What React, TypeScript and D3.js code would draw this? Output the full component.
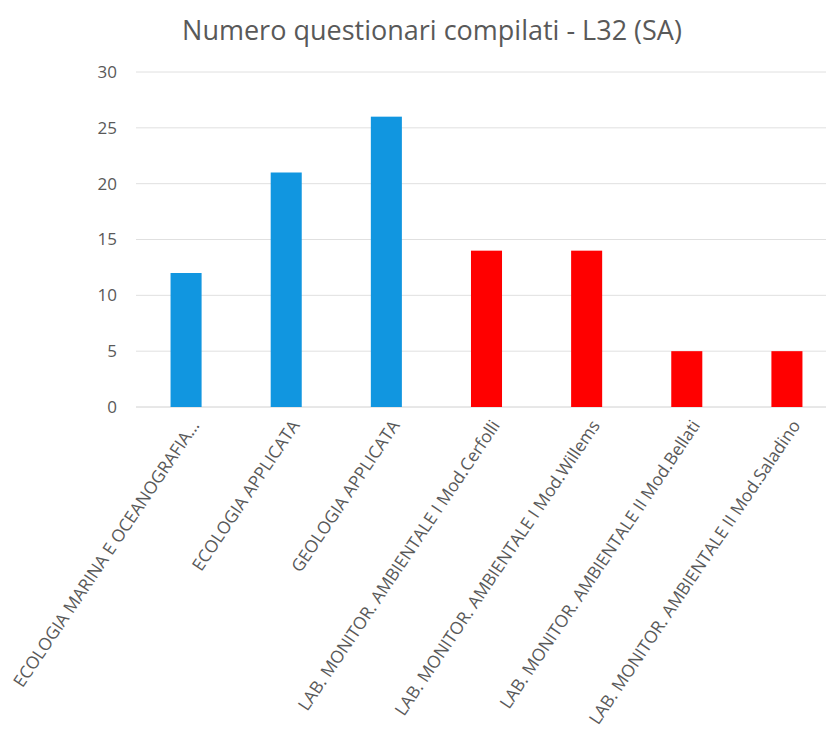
import React from "react";
import * as d3 from "d3";

const categories = [
  "ECOLOGIA MARINA E OCEANOGRAFIA...",
  "ECOLOGIA APPLICATA",
  "GEOLOGIA APPLICATA",
  "LAB. MONITOR. AMBIENTALE I Mod.Cerfolli",
  "LAB. MONITOR. AMBIENTALE I Mod.Willems",
  "LAB. MONITOR. AMBIENTALE II Mod.Bellati",
  "LAB. MONITOR. AMBIENTALE II Mod.Saladino",
];
const values = [12, 21, 26, 14, 14, 5, 5];
const barColors = ["#1196E0", "#1196E0", "#1196E0", "#FF0000", "#FF0000", "#FF0000", "#FF0000"];
const yTicks = [0, 5, 10, 15, 20, 25, 30];
const title = "Numero questionari compilati - L32 (SA)";

const W = 826;
const H = 740;
const FONT = "'Open Sans', sans-serif";

export default function App() {
  const x = d3.scaleBand<string>().domain(categories).range([136, 837]).paddingInner(0.69).paddingOuter(0.345);
  const y = d3.scaleLinear().domain([0, 30]).range([407, 72]);

  return (
    <svg width={W} height={H} style={{ position: "absolute", left: 0, top: 0, background: "#fff" }}>
      <text x={432} y={40} textAnchor="middle" fontFamily={FONT} fontSize={27} fill="#595959">
        {title}
      </text>
      {yTicks.map((t) => (
        <g key={t}>
          <line x1={136} x2={W} y1={y(t)} y2={y(t)} stroke={t === 0 ? "#d0d0d0" : "#e0e0e0"} strokeWidth={1} />
          <text x={117} y={y(t)} dy="0.35em" textAnchor="end" fontFamily={FONT} fontSize={17} fill="#595959">
            {t}
          </text>
        </g>
      ))}
      {categories.map((c, i) => (
        <rect key={c} x={x(c)} y={y(values[i])} width={x.bandwidth()} height={y(0) - y(values[i])} fill={barColors[i]} />
      ))}
      {categories.map((c) => {
        const cx = (x(c) as number) + x.bandwidth() / 2;
        return (
          <text
            key={c}
            transform={`translate(${cx + 9},${422}) rotate(-56)`}
            textAnchor="end"
            dy="0.35em"
            fontFamily={FONT}
            fontSize={17.3}
            fill="#595959"
          >
            {c}
          </text>
        );
      })}
    </svg>
  );
}
